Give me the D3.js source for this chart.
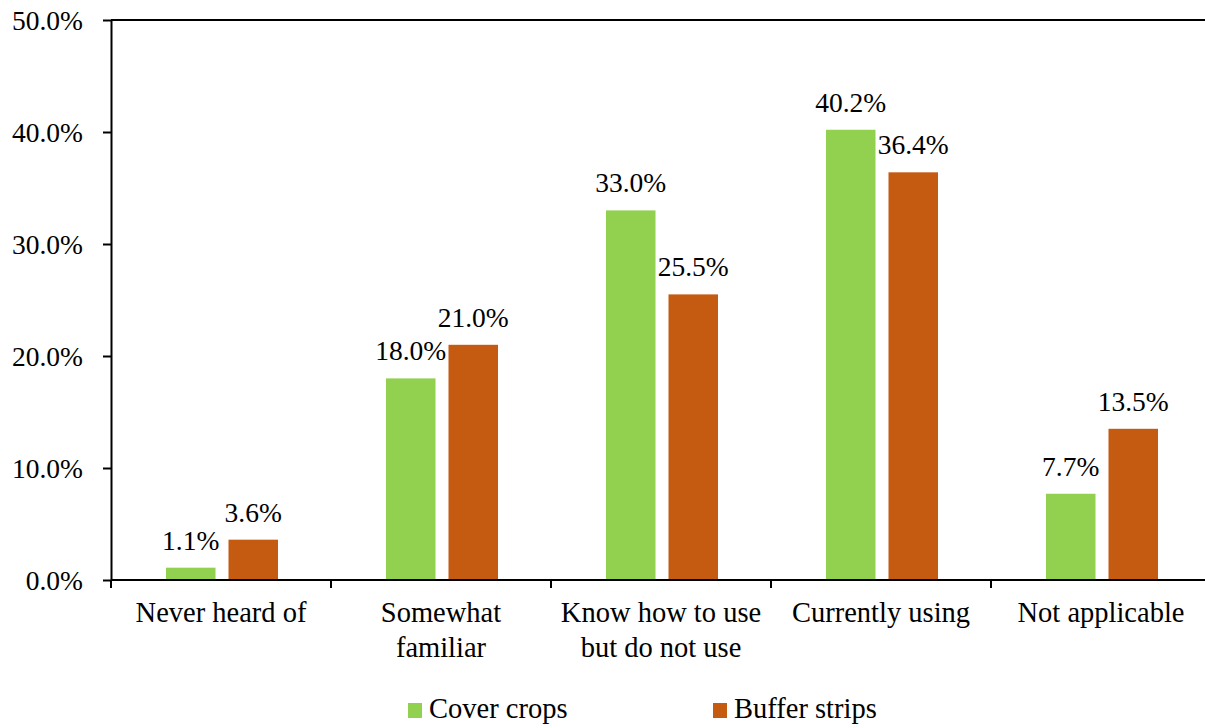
<!DOCTYPE html>
<html>
<head>
<meta charset="utf-8">
<script src="https://cdn.jsdelivr.net/npm/d3@7"></script>
<style>
  body { margin: 0; background: #fff; }
  svg text { font-family: "Liberation Serif", "DejaVu Serif", serif; fill: #000; }
</style>
</head>
<body>
<div id="chart"></div>
<script>
// categories (x axis), each label split into lines
var categories = ["Never heard of", "Somewhat familiar", "Know how to use but do not use", "Currently using", "Not applicable"]
var categoryLines = [["Never heard of"], ["Somewhat", "familiar"], ["Know how to use", "but do not use"], ["Currently using"], ["Not applicable"]]
var seriesNames = ["Cover crops", "Buffer strips"]
var seriesColors = ["#92D050", "#C55A11"]
var coverCrops = [0.011, 0.180, 0.330, 0.402, 0.077]
var bufferStrips = [0.036, 0.210, 0.255, 0.364, 0.135]
var yTicks = [0, 0.1, 0.2, 0.3, 0.4, 0.5]

var width = 1205, height = 728
var margin = {top: 20, left: 111, bottom: 580}
var numSize = "27.5px"
var textSize = "28.5px"

var svg = d3.select("#chart").append("svg")
    .attr("width", width)
    .attr("height", height)

var x = d3.scaleBand()
    .domain(categories)
    .range([margin.left, margin.left + 1100])
    .padding(0)

var xInner = d3.scaleBand()
    .domain(seriesNames)
    .range([55, 167])
    .paddingInner(0.208)
    .paddingOuter(0)

var y = d3.scaleLinear()
    .domain([0, 0.5])
    .range([margin.bottom, margin.top])

// build rows for the bars
var rows = []
categories.forEach(function (c, i) {
    rows.push({cat: c, series: seriesNames[0], value: coverCrops[i], color: seriesColors[0]})
    rows.push({cat: c, series: seriesNames[1], value: bufferStrips[i], color: seriesColors[1]})
})

// top border line
svg.append("line")
    .attr("x1", margin.left).attr("x2", width)
    .attr("y1", y(0.5)).attr("y2", y(0.5))
    .attr("stroke", "#000").attr("stroke-width", 2)

// bars
svg.selectAll(".bar")
    .data(rows)
    .enter()
    .append("rect")
    .attr("x", function (d) { return x(d.cat) + xInner(d.series) })
    .attr("y", function (d) { return y(d.value) })
    .attr("width", xInner.bandwidth())
    .attr("height", function (d) { return y(0) - y(d.value) })
    .attr("fill", function (d) { return d.color })

// value labels
svg.selectAll(".val")
    .data(rows)
    .enter()
    .append("text")
    .attr("x", function (d) { return x(d.cat) + xInner(d.series) + xInner.bandwidth() / 2 })
    .attr("y", function (d) { return y(d.value) - 18 })
    .attr("text-anchor", "middle")
    .style("font-size", numSize)
    .text(function (d) { return d3.format(".1%")(d.value) })

// y axis
var yAxis = svg.append("g")
    .attr("transform", "translate(" + margin.left + ",0)")
    .call(d3.axisLeft(y).tickValues(yTicks).tickFormat(d3.format(".1%")).tickSize(8).tickSizeOuter(0).tickPadding(20))
yAxis.attr("font-family", null).attr("font-size", null)
yAxis.selectAll("path, line").attr("stroke", "#000").attr("stroke-width", 2)
yAxis.selectAll("text").style("font-size", numSize).attr("dy", "0.35em")

// x axis line + ticks at band edges
svg.append("line")
    .attr("x1", margin.left).attr("x2", width)
    .attr("y1", y(0)).attr("y2", y(0))
    .attr("stroke", "#000").attr("stroke-width", 2)

var edges = categories.map(function (c) { return x(c) }).concat([x.range()[1]])
svg.selectAll(".xtick")
    .data(edges)
    .enter()
    .append("line")
    .attr("x1", function (d) { return d }).attr("x2", function (d) { return d })
    .attr("y1", y(0)).attr("y2", y(0) + 8)
    .attr("stroke", "#000").attr("stroke-width", 2)

// category labels
var catText = svg.selectAll(".cat")
    .data(categories)
    .enter()
    .append("text")
    .attr("text-anchor", "middle")
    .style("font-size", textSize)
catText.each(function (c, i) {
    var t = d3.select(this)
    categoryLines[i].forEach(function (line, j) {
        t.append("tspan")
            .attr("x", x(c) + x.bandwidth() / 2)
            .attr("y", 622 + j * 35)
            .text(line)
    })
})

// legend
var legendX = [408, 713]
seriesNames.forEach(function (s, i) {
    svg.append("rect")
        .attr("x", legendX[i]).attr("y", 703)
        .attr("width", 14).attr("height", 15)
        .attr("fill", seriesColors[i])
    svg.append("text")
        .attr("x", legendX[i] + 21).attr("y", 718)
        .style("font-size", textSize)
        .text(s)
})
</script>
</body>
</html>
